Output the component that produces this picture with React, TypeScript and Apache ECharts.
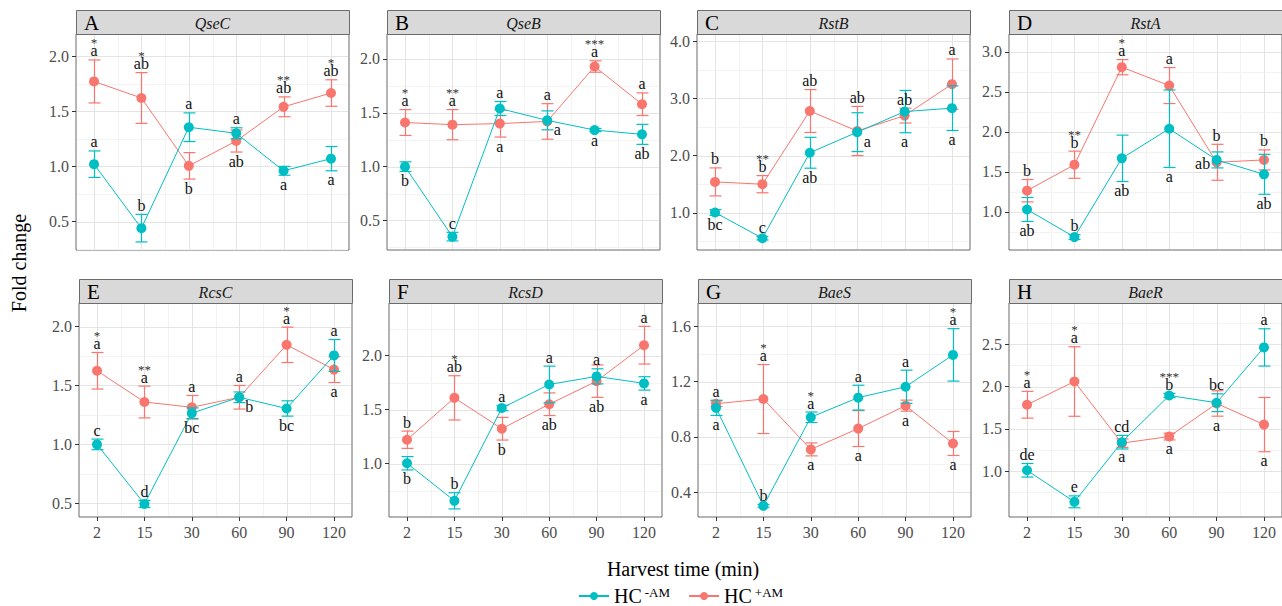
import React, { useEffect, useRef } from 'react';
import * as echarts from 'echarts';

const times = ['2', '15', '30', '60', '90', '120'];
const seriesNames = ['HC-AM', 'HC+AM'];

// A QseC
const qsecMinusMean = [1.02, 0.44, 1.355, 1.3, 0.96, 1.07];
const qsecMinusSe = [0.12, 0.125, 0.13, 0.05, 0.04, 0.11];
const qsecPlusMean = [1.77, 1.62, 1.005, 1.23, 1.54, 1.665];
const qsecPlusSe = [0.195, 0.23, 0.12, 0.1, 0.09, 0.12];
const qsecMinusLetters = ['a', 'b', 'a', 'a', 'a', 'a'];
const qsecPlusLetters = ['a', 'ab', 'b', 'ab', 'ab', 'ab'];
const qsecStars = ['*', '*', '', '', '**', '*'];
const qsecTicks = [0.5, 1.0, 1.5, 2.0];

// B QseB
const qsebMinusMean = [1.0, 0.35, 1.54, 1.43, 1.34, 1.3];
const qsebMinusSe = [0.045, 0.04, 0.065, 0.088, 0.015, 0.093];
const qsebPlusMean = [1.41, 1.39, 1.4, 1.42, 1.93, 1.58];
const qsebPlusSe = [0.12, 0.14, 0.125, 0.165, 0.053, 0.105];
const qsebMinusLetters = ['b', 'c', 'a', 'a', 'a', 'ab'];
const qsebPlusLetters = ['a', 'a', 'a', 'a', 'a', 'a'];
const qsebStars = ['*', '**', '', '', '***', ''];
const qsebTicks = [0.5, 1.0, 1.5, 2.0];

// C RstB
const rstbMinusMean = [1.005, 0.555, 2.05, 2.41, 2.77, 2.83];
const rstbMinusSe = [0.05, 0.03, 0.27, 0.34, 0.37, 0.39];
const rstbPlusMean = [1.54, 1.5, 2.78, 2.43, 2.7, 3.25];
const rstbPlusSe = [0.245, 0.15, 0.375, 0.43, 0.13, 0.44];
const rstbMinusLetters = ['bc', 'c', 'ab', 'a', 'a', 'a'];
const rstbPlusLetters = ['b', 'b', 'ab', 'ab', 'ab', 'a'];
const rstbStars = ['', '**', '', '', '', ''];
const rstbTicks = [1.0, 2.0, 3.0, 4.0];

// D RstA
const rstaMinusMean = [1.03, 0.685, 1.67, 2.04, 1.65, 1.47];
const rstaMinusSe = [0.15, 0.03, 0.29, 0.485, 0.1, 0.25];
const rstaPlusMean = [1.265, 1.59, 2.81, 2.58, 1.62, 1.65];
const rstaPlusSe = [0.14, 0.17, 0.095, 0.225, 0.225, 0.125];
const rstaMinusLetters = ['ab', 'b', 'ab', 'a', 'ab', 'ab'];
const rstaPlusLetters = ['b', 'b', 'a', 'a', 'b', 'b'];
const rstaStars = ['', '**', '*', '', '', ''];
const rstaTicks = [1.0, 1.5, 2.0, 2.5, 3.0];

// E RcsC
const rcscMinusMean = [1.0, 0.495, 1.265, 1.4, 1.305, 1.755];
const rcscMinusSe = [0.045, 0.03, 0.045, 0.045, 0.065, 0.135];
const rcscPlusMean = [1.625, 1.36, 1.315, 1.4, 1.845, 1.635];
const rcscPlusSe = [0.155, 0.135, 0.1, 0.1, 0.15, 0.11];
const rcscMinusLetters = ['c', 'd', 'bc', 'b', 'bc', 'a'];
const rcscPlusLetters = ['a', 'a', 'a', 'a', 'a', 'a'];
const rcscStars = ['*', '**', '', '', '*', ''];
const rcscTicks = [0.5, 1.0, 1.5, 2.0];

// F RcsD
const rcsdMinusMean = [1.003, 0.655, 1.515, 1.733, 1.808, 1.743];
const rcsdMinusSe = [0.062, 0.075, 0.025, 0.17, 0.07, 0.062];
const rcsdPlusMean = [1.221, 1.609, 1.323, 1.55, 1.764, 2.097];
const rcsdPlusSe = [0.08, 0.205, 0.105, 0.105, 0.15, 0.175];
const rcsdMinusLetters = ['b', 'b', 'a', 'a', 'a', 'a'];
const rcsdPlusLetters = ['b', 'ab', 'b', 'ab', 'ab', 'a'];
const rcsdStars = ['', '*', '', '', '', ''];
const rcsdTicks = [1.0, 1.5, 2.0];

// G BaeS
const baesMinusMean = [1.01, 0.3, 0.942, 1.084, 1.163, 1.394];
const baesMinusSe = [0.055, 0.01, 0.038, 0.09, 0.12, 0.19];
const baesPlusMean = [1.04, 1.074, 0.709, 0.86, 1.026, 0.752];
const baesPlusSe = [0.02, 0.25, 0.047, 0.13, 0.04, 0.087];
const baesMinusLetters = ['a', 'b', 'a', 'a', 'a', 'a'];
const baesPlusLetters = ['a', 'a', 'a', 'a', 'a', 'a'];
const baesStars = ['', '*', '*', '', '', '*'];
const baesTicks = [0.4, 0.8, 1.2, 1.6];

// H BaeR
const baerMinusMean = [1.012, 0.64, 1.343, 1.894, 1.809, 2.461];
const baerMinusSe = [0.08, 0.07, 0.08, 0.025, 0.105, 0.22];
const baerPlusMean = [1.785, 2.059, 1.332, 1.41, 1.8, 1.551];
const baerPlusSe = [0.158, 0.41, 0.05, 0.04, 0.15, 0.32];
const baerMinusLetters = ['de', 'e', 'cd', 'b', 'bc', 'a'];
const baerPlusLetters = ['a', 'a', 'a', 'a', 'a', 'a'];
const baerStars = ['*', '*', '', '***', '', ''];
const baerTicks = [1.0, 1.5, 2.0, 2.5];

const FONT = '"Liberation Serif", "Times New Roman", Times, serif';
const TEAL = '#00BFC4';
const RED = '#F8766D';
const BORDER = '#6b6b6b';

const PW = 273;
const STRIP_H = 24;
const rowTop = [34, 303];
const rowH = [216, 214];
const colLeft = [
  [76, 387, 697, 1009],
  [79, 389, 698, 1009],
];
const X_MIN = -0.38;
const X_MAX = 5.38;

type Panel = {
  letter: string; gene: string; row: number; col: number;
  minusMean: number[]; minusSe: number[]; plusMean: number[]; plusSe: number[];
  minusLetters: string[]; plusLetters: string[]; stars: string[];
  minusPos: string; plusPos: string; yMin: number; yMax: number; ticks: number[];
};

const panels: Panel[] = [
  { letter: 'A', gene: 'QseC', row: 0, col: 0, minusMean: qsecMinusMean, minusSe: qsecMinusSe, plusMean: qsecPlusMean, plusSe: qsecPlusSe, minusLetters: qsecMinusLetters, plusLetters: qsecPlusLetters, stars: qsecStars, minusPos: 'uuuudd', plusPos: 'uudduu', yMin: 0.242, yMax: 2.2, ticks: qsecTicks },
  { letter: 'B', gene: 'QseB', row: 0, col: 1, minusMean: qsebMinusMean, minusSe: qsebMinusSe, plusMean: qsebPlusMean, plusSe: qsebPlusSe, minusLetters: qsebMinusLetters, plusLetters: qsebPlusLetters, stars: qsebStars, minusPos: 'duurdd', plusPos: 'uuduuu', yMin: 0.226, yMax: 2.232, ticks: qsebTicks },
  { letter: 'C', gene: 'RstB', row: 0, col: 2, minusMean: rstbMinusMean, minusSe: rstbMinusSe, plusMean: rstbPlusMean, plusSe: rstbPlusSe, minusLetters: rstbMinusLetters, plusLetters: rstbPlusLetters, stars: rstbStars, minusPos: 'dudrdd', plusPos: 'uuuuuu', yMin: 0.349, yMax: 4.127, ticks: rstbTicks },
  { letter: 'D', gene: 'RstA', row: 0, col: 3, minusMean: rstaMinusMean, minusSe: rstaMinusSe, plusMean: rstaPlusMean, plusSe: rstaPlusSe, minusLetters: rstaMinusLetters, plusLetters: rstaPlusLetters, stars: rstaStars, minusPos: 'duddld', plusPos: 'uuuuuu', yMin: 0.523, yMax: 3.225, ticks: rstaTicks },
  { letter: 'E', gene: 'RcsC', row: 1, col: 0, minusMean: rcscMinusMean, minusSe: rcscMinusSe, plusMean: rcscPlusMean, plusSe: rcscPlusSe, minusLetters: rcscMinusLetters, plusLetters: rcscPlusLetters, stars: rcscStars, minusPos: 'uudrdu', plusPos: 'uuuuud', yMin: 0.384, yMax: 2.2, ticks: rcscTicks },
  { letter: 'F', gene: 'RcsD', row: 1, col: 1, minusMean: rcsdMinusMean, minusSe: rcsdMinusSe, plusMean: rcsdPlusMean, plusSe: rcsdPlusSe, minusLetters: rcsdMinusLetters, plusLetters: rcsdPlusLetters, stars: rcsdStars, minusPos: 'duuuud', plusPos: 'uudddu', yMin: 0.505, yMax: 2.488, ticks: rcsdTicks },
  { letter: 'G', gene: 'BaeS', row: 1, col: 2, minusMean: baesMinusMean, minusSe: baesMinusSe, plusMean: baesPlusMean, plusSe: baesPlusSe, minusLetters: baesMinusLetters, plusLetters: baesPlusLetters, stars: baesStars, minusPos: 'duuuuu', plusPos: 'uudddd', yMin: 0.219, yMax: 1.77, ticks: baesTicks },
  { letter: 'H', gene: 'BaeR', row: 1, col: 3, minusMean: baerMinusMean, minusSe: baerMinusSe, plusMean: baerPlusMean, plusSe: baerPlusSe, minusLetters: baerMinusLetters, plusLetters: baerPlusLetters, stars: baerStars, minusPos: 'uuuuuu', plusPos: 'uudddd', yMin: 0.461, yMax: 2.985, ticks: baerTicks },
];

const crisp = (v: number) => Math.round(v) + 0.5;

function buildOption() {
  const grids: any[] = [];
  const xAxes: any[] = [];
  const yAxes: any[] = [];
  const series: any[] = [];
  const graphics: any[] = [];
  const xIdx = times.map((_, i) => i);

  panels.forEach((p, k) => {
    const left = colLeft[p.row][p.col];
    const top = rowTop[p.row];
    const height = rowH[p.row];
    const step = p.ticks[1] - p.ticks[0];
    const yMinor: number[] = [];
    for (let v = p.ticks[0] - step / 2; v < p.yMax; v += step) {
      if (v > p.yMin) yMinor.push(v);
    }
    const xMinor = xIdx.slice(0, -1).map((i) => i + 0.5);

    grids.push({
      left, top, width: PW, height, show: true,
      borderColor: BORDER, borderWidth: 1, backgroundColor: '#fff',
    });
    const bottomRow = p.row === 1;
    xAxes.push({
      gridIndex: k, type: 'value', min: X_MIN, max: X_MAX, position: 'bottom',
      axisLine: { show: false, onZero: false },
      splitLine: { show: false },
      axisTick: { show: bottomRow, customValues: xIdx, length: 4, lineStyle: { color: '#333', width: 1 } },
      axisLabel: {
        show: bottomRow, customValues: xIdx, margin: 7,
        formatter: (v: number) => (Number.isInteger(v) && times[v] !== undefined ? times[v] : ''),
        color: '#4d4d4d', fontFamily: FONT, fontSize: 16,
      },
    });
    yAxes.push({
      gridIndex: k, type: 'value', min: p.yMin, max: p.yMax, position: 'left',
      axisLine: { show: false, onZero: false },
      splitLine: { show: false },
      axisTick: { show: true, customValues: p.ticks, length: 4, lineStyle: { color: '#333', width: 1 } },
      axisLabel: {
        customValues: p.ticks, margin: 7,
        formatter: (v: number) => (p.ticks.some((t) => Math.abs(t - v) < 1e-9) ? v.toFixed(1) : ''),
        color: '#4d4d4d', fontFamily: FONT, fontSize: 16,
      },
    });

    // gridlines
    series.push({
      type: 'custom', xAxisIndex: k, yAxisIndex: k, silent: true, z: 1,
      data: [[0, p.ticks[0]]], encode: { x: 0, y: 1 },
      renderItem: (params: any, api: any) => {
        const cs = params.coordSys;
        const children: any[] = [];
        const vline = (v: number, color: string) => {
          const x = crisp(api.coord([v, p.ticks[0]])[0]);
          children.push({ type: 'line', shape: { x1: x, y1: cs.y + 1, x2: x, y2: cs.y + cs.height - 1 }, style: { stroke: color, lineWidth: 1 } });
        };
        const hline = (v: number, color: string) => {
          const y = crisp(api.coord([0, v])[1]);
          children.push({ type: 'line', shape: { x1: cs.x + 1, y1: y, x2: cs.x + cs.width - 1, y2: y }, style: { stroke: color, lineWidth: 1 } });
        };
        xMinor.forEach((v) => vline(v, '#f3f3f3'));
        yMinor.forEach((v) => hline(v, '#f3f3f3'));
        xIdx.forEach((v) => vline(v, '#e4e4e4'));
        p.ticks.forEach((v) => hline(v, '#e4e4e4'));
        return { type: 'group', children };
      },
    });

    const errSeries = (mean: number[], se: number[], color: string, z: number) => ({
      type: 'custom', xAxisIndex: k, yAxisIndex: k, silent: true, z,
      data: mean.map((m, i) => [i, m, se[i]]), encode: { x: 0, y: 1 },
      renderItem: (params: any, api: any) => {
        const x = api.value(0), m = api.value(1), e = api.value(2);
        const t = api.coord([x, m + e]);
        const b = api.coord([x, m - e]);
        const cx = crisp(t[0]);
        const st = { stroke: color, lineWidth: 1.2 };
        return {
          type: 'group',
          children: [
            { type: 'line', shape: { x1: cx, y1: t[1], x2: cx, y2: b[1] }, style: st },
            { type: 'line', shape: { x1: cx - 6, y1: t[1], x2: cx + 6, y2: t[1] }, style: st },
            { type: 'line', shape: { x1: cx - 6, y1: b[1], x2: cx + 6, y2: b[1] }, style: st },
          ],
        };
      },
    });
    const lineSeries = (name: string, mean: number[], color: string, z: number) => ({
      name, type: 'line', xAxisIndex: k, yAxisIndex: k, silent: true, z,
      data: mean.map((m, i) => [i, m]),
      symbol: 'circle', symbolSize: 10, showSymbol: true,
      lineStyle: { color, width: 1 }, itemStyle: { color },
      emphasis: { disabled: true },
    });

    series.push(errSeries(p.plusMean, p.plusSe, RED, 2));
    series.push(lineSeries(seriesNames[1], p.plusMean, RED, 3));
    series.push(errSeries(p.minusMean, p.minusSe, TEAL, 4));
    series.push(lineSeries(seriesNames[0], p.minusMean, TEAL, 5));

    // letters and stars
    series.push({
      type: 'custom', xAxisIndex: k, yAxisIndex: k, silent: true, z: 6,
      data: p.minusMean.map((m, i) => [i, m]), encode: { x: 0, y: 1 },
      renderItem: (params: any, api: any) => {
        const i = params.dataIndex;
        const place = (mean: number, se: number, pos: string) => {
          const c = api.coord([i, mean]);
          const t = api.coord([i, mean + se]);
          const b = api.coord([i, mean - se]);
          if (pos === 'u') return [c[0], t[1] - 9];
          if (pos === 'd') return [c[0], b[1] + 9];
          if (pos === 'r') return [c[0] + 10, c[1] + 9];
          return [c[0] - 14, c[1] + 4];
        };
        const txt = (pt: number[], text: string) => ({
          type: 'text', x: pt[0], y: pt[1],
          style: { text, fill: '#111', fontFamily: FONT, fontSize: 16, align: 'center', verticalAlign: 'middle', textAlign: 'center', textVerticalAlign: 'middle' },
        });
        const starTxt = (pt: number[], star: string, text: string) => ({
          type: 'text', x: pt[0], y: pt[1] + 6,
          style: {
            text: `{s|${star}}\n{l|${text}}`,
            fill: '#111', fontFamily: FONT, fontSize: 16,
            align: 'center', verticalAlign: 'bottom', textAlign: 'center', textVerticalAlign: 'bottom',
            rich: {
              s: { fontSize: 13, lineHeight: 4, fontFamily: FONT, fill: '#333', color: '#333' },
              l: { fontSize: 16, lineHeight: 12, fontFamily: FONT, fill: '#111', color: '#111' },
            },
          },
        });
        const pm = place(p.minusMean[i], p.minusSe[i], p.minusPos[i]);
        const pp = place(p.plusMean[i], p.plusSe[i], p.plusPos[i]);
        let starOn = -1;
        if (p.stars[i]) {
          const mUp = p.minusPos[i] === 'u';
          const pUp = p.plusPos[i] === 'u';
          if (mUp && pUp) starOn = pm[1] < pp[1] ? 0 : 1;
          else if (mUp) starOn = 0;
          else starOn = 1;
        }
        const children: any[] = [
          starOn === 0 ? starTxt(pm, p.stars[i], p.minusLetters[i]) : txt(pm, p.minusLetters[i]),
          starOn === 1 ? starTxt(pp, p.stars[i], p.plusLetters[i]) : txt(pp, p.plusLetters[i]),
        ];
        return { type: 'group', children };
      },
    });

    // strip
    graphics.push({
      type: 'rect', silent: true,
      shape: { x: left + 0.5, y: top - STRIP_H + 0.5, width: PW, height: STRIP_H },
      style: { fill: '#d9d9d9', stroke: BORDER, lineWidth: 1 },
    });
    graphics.push({
      type: 'text', silent: true, x: left + 8, y: top - STRIP_H / 2 + 1,
      style: { text: p.letter, fill: '#000', fontFamily: FONT, fontSize: 21, align: 'left', verticalAlign: 'middle', textAlign: 'left', textVerticalAlign: 'middle' },
    });
    graphics.push({
      type: 'text', silent: true, x: left + PW / 2, y: top - STRIP_H / 2 + 1,
      style: { text: p.gene, fill: '#1a1a1a', fontFamily: FONT, fontSize: 16, fontStyle: 'italic', align: 'center', verticalAlign: 'middle', textAlign: 'center', textVerticalAlign: 'middle' },
    });
  });

  graphics.push({
    type: 'text', silent: true, x: 683, y: 569,
    style: { text: 'Harvest time (min)', fill: '#000', fontFamily: FONT, fontSize: 20, align: 'center', verticalAlign: 'middle', textAlign: 'center', textVerticalAlign: 'middle' },
  });
  graphics.push({
    type: 'text', silent: true, x: 19, y: 263, rotation: Math.PI / 2,
    style: { text: 'Fold change', fill: '#000', fontFamily: FONT, fontSize: 20, align: 'center', verticalAlign: 'middle', textAlign: 'center', textVerticalAlign: 'middle' },
  });

  return {
    animation: false,
    backgroundColor: '#fff',
    grid: grids,
    xAxis: xAxes,
    yAxis: yAxes,
    series,
    graphic: graphics,
    legend: {
      data: seriesNames,
      left: 573, top: 581,
      itemWidth: 30, itemHeight: 10, itemGap: 18,
      selectedMode: false,
      formatter: (name: string) => `{h|HC}{s|${name.slice(2)}}`,
      textStyle: {
        color: '#000', fontFamily: FONT,
        rich: {
          h: { fontSize: 20, fontFamily: FONT, color: '#000' },
          s: { fontSize: 13, fontFamily: FONT, color: '#000', verticalAlign: 'top', padding: [0, 0, 0, 3] },
        },
      },
    },
  };
}

export default function App() {
  const ref = useRef<HTMLDivElement>(null);
  useEffect(() => {
    if (!ref.current) return;
    const chart = echarts.init(ref.current, undefined, { renderer: 'svg' });
    chart.setOption(buildOption() as any);
    return () => chart.dispose();
  }, []);
  return (
    <div
      ref={ref}
      style={{ position: 'fixed', left: 0, top: 0, width: 1282, height: 606, background: '#fff' }}
    />
  );
}
